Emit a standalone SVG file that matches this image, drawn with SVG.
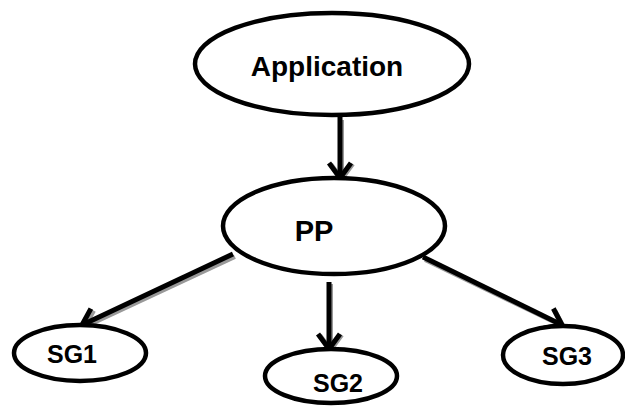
<svg xmlns="http://www.w3.org/2000/svg" width="625" height="406" viewBox="0 0 625 406">
<style>
.node{fill:#fff;stroke:#000;stroke-width:4.5}
.lbl{font-family:"Liberation Sans",Arial,sans-serif;font-weight:bold;fill:#000;text-anchor:middle}
.edge{stroke:#000;stroke-width:5;fill:none;marker-end:url(#arr)}
.shadow{stroke:#999;stroke-width:4;fill:none;marker-end:url(#arrS)}
</style>
<defs>
<marker id="arr" markerUnits="userSpaceOnUse" viewBox="-20 -14 24 28" refX="0" refY="0" markerWidth="24" markerHeight="28" orient="auto">
<path d="M-15,-11 L0,0 L-15,11" fill="none" stroke="#000" stroke-width="5" stroke-linejoin="miter"/>
</marker>
<marker id="arrS" markerUnits="userSpaceOnUse" viewBox="-20 -14 24 28" refX="0" refY="0" markerWidth="24" markerHeight="28" orient="auto">
<path d="M-15,-11 L0,0 L-15,11" fill="none" stroke="#999" stroke-width="4"/>
</marker>
</defs>
<g id="connectors">
<line class="shadow" x1="342" y1="120" x2="342" y2="179"/>
<line class="shadow" x1="235" y1="257" x2="85" y2="327"/>
<line class="shadow" x1="331" y1="284" x2="331" y2="350"/>
<line class="shadow" x1="425" y1="260" x2="564" y2="327"/>
<line class="edge" x1="340" y1="117" x2="340" y2="178"/>
<line class="edge" x1="233" y1="254" x2="82" y2="325"/>
<line class="edge" x1="329" y1="282" x2="329" y2="349"/>
<line class="edge" x1="423" y1="257" x2="562" y2="325"/>
</g>
<g id="application">
<ellipse class="node" cx="332" cy="64" rx="137" ry="51"/>
<text class="lbl" x="327" y="76" font-size="28">Application</text>
</g>
<g id="pp">
<ellipse class="node" cx="334" cy="226" rx="111" ry="48"/>
<text class="lbl" x="314" y="241" font-size="29">PP</text>
</g>
<g id="sg1">
<ellipse class="node" cx="80" cy="353" rx="66" ry="28"/>
<text class="lbl" x="72" y="363" font-size="25">SG1</text>
</g>
<g id="sg2">
<ellipse class="node" cx="331" cy="376" rx="66" ry="27"/>
<text class="lbl" x="338" y="392" font-size="25">SG2</text>
</g>
<g id="sg3">
<ellipse class="node" cx="563" cy="355" rx="60" ry="29"/>
<text class="lbl" x="567" y="365" font-size="25">SG3</text>
</g>
</svg>
